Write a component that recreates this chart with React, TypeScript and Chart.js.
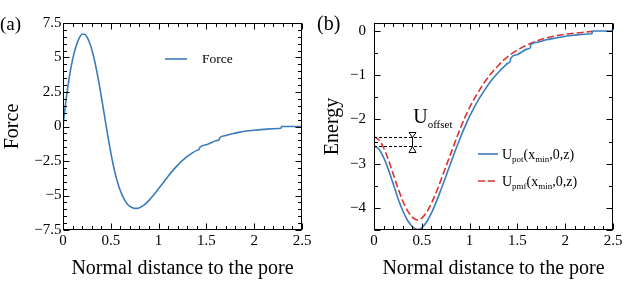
import React, { useEffect, useRef } from 'react';
import { Chart, registerables } from 'chart.js';

Chart.register(...registerables);

const FONT = '"Liberation Serif", "Times New Roman", serif';
const BLUE = '#3b7cbf';
const RED = '#e0302e';

const xTicks = [0, 0.5, 1, 1.5, 2, 2.5];
const xTickLabels = ['0', '0.5', '1', '1.5', '2', '2.5'];
const forceTicks = [-7.5, -5, -2.5, 0, 2.5, 5, 7.5];
const forceTickLabels = ['−7.5', '−5', '−2.5', '0', '2.5', '5', '7.5'];
const energyTicks = [-4, -3, -2, -1, 0];
const energyTickLabels = ['−4', '−3', '−2', '−1', '0'];

const forceX = [0, 0.025, 0.05, 0.075, 0.1, 0.125, 0.15, 0.175, 0.2, 0.225, 0.25, 0.275, 0.3, 0.325, 0.35, 0.375, 0.4, 0.425, 0.45, 0.475, 0.5, 0.525, 0.55, 0.575, 0.6, 0.625, 0.65, 0.675, 0.7, 0.725, 0.75, 0.775, 0.8, 0.85, 0.9, 0.95, 1.0, 1.05, 1.1, 1.15, 1.2, 1.25, 1.3, 1.35, 1.4, 1.425, 1.43, 1.5, 1.55, 1.6, 1.635, 1.64, 1.7, 1.75, 1.8, 1.85, 1.9, 2.0, 2.1, 2.2, 2.28, 2.285, 2.5];
const forceY = [0, 1.55, 2.85, 3.95, 4.85, 5.55, 6.08, 6.47, 6.69, 6.68, 6.5, 6.12, 5.6, 4.93, 4.12, 3.2, 2.2, 1.15, 0.1, -0.93, -1.9, -2.77, -3.52, -4.15, -4.66, -5.07, -5.39, -5.63, -5.79, -5.88, -5.93, -5.93, -5.88, -5.68, -5.35, -4.95, -4.5, -4.05, -3.6, -3.18, -2.8, -2.46, -2.17, -1.93, -1.73, -1.64, -1.52, -1.32, -1.17, -1.03, -0.95, -0.8, -0.66, -0.56, -0.48, -0.41, -0.35, -0.27, -0.21, -0.16, -0.13, 0, 0];

const potX = [0, 0.05, 0.1, 0.15, 0.2, 0.25, 0.3, 0.35, 0.4, 0.45, 0.5, 0.55, 0.6, 0.65, 0.7, 0.75, 0.8, 0.85, 0.9, 0.95, 1.0, 1.05, 1.1, 1.15, 1.2, 1.25, 1.3, 1.35, 1.4, 1.425, 1.43, 1.5, 1.55, 1.6, 1.635, 1.64, 1.7, 1.8, 1.9, 2.0, 2.1, 2.2, 2.28, 2.285, 2.5];
const potY = [-2.6, -2.67, -2.86, -3.13, -3.45, -3.78, -4.06, -4.28, -4.42, -4.49, -4.45, -4.32, -4.12, -3.87, -3.59, -3.3, -3.0, -2.71, -2.43, -2.17, -1.93, -1.72, -1.53, -1.36, -1.2, -1.06, -0.94, -0.83, -0.73, -0.69, -0.62, -0.53, -0.47, -0.41, -0.38, -0.31, -0.26, -0.2, -0.16, -0.12, -0.095, -0.075, -0.065, 0, 0];

const pmfX = [0, 0.05, 0.1, 0.15, 0.2, 0.25, 0.3, 0.35, 0.4, 0.45, 0.5, 0.55, 0.6, 0.65, 0.7, 0.75, 0.8, 0.85, 0.9, 0.95, 1.0, 1.05, 1.1, 1.15, 1.2, 1.25, 1.3, 1.35, 1.4, 1.45, 1.5, 1.6, 1.7, 1.8, 1.9, 2.0, 2.1, 2.2, 2.28];
const pmfY = [-2.39, -2.46, -2.64, -2.91, -3.23, -3.55, -3.84, -4.06, -4.21, -4.27, -4.23, -4.1, -3.9, -3.65, -3.37, -3.08, -2.79, -2.5, -2.22, -1.96, -1.73, -1.53, -1.35, -1.18, -1.03, -0.9, -0.78, -0.67, -0.58, -0.5, -0.43, -0.32, -0.23, -0.16, -0.11, -0.075, -0.05, -0.03, -0.01];

const offsetMarkX = 0.4;
const offsetLineEndX = 0.5;
const offsetLabelX = 0.41;
const offsetLabelY = -2.07;

const pts = (xs: number[], ys: number[]) => xs.map((x, i) => ({ x, y: ys[i] }));

type Part = [string, boolean];
function drawRich(ctx: CanvasRenderingContext2D, x: number, y: number, parts: Part[], size: number, subSize: number, subDrop: number) {
  let cx = x;
  ctx.textBaseline = 'alphabetic';
  ctx.textAlign = 'left';
  for (const [t, sub] of parts) {
    ctx.font = `${sub ? subSize : size}px ${FONT}`;
    ctx.fillText(t, cx, sub ? y + subDrop : y);
    cx += ctx.measureText(t).width;
  }
}

function frameTicksPlugin(xStep: number, yStep: number, xMaj: number[], yMaj: number[], extra?: (chart: any) => void) {
  return {
    id: 'frameTicks',
    afterDatasetsDraw(chart: any) {
      const { ctx, chartArea } = chart;
      const { left, right, top, bottom } = chartArea;
      const xs = chart.scales.x;
      const ys = chart.scales.y;
      ctx.save();
      ctx.strokeStyle = '#000';
      ctx.lineWidth = 1;
      const L = Math.round(left) + 0.5, R = Math.round(right) - 0.5, T = Math.round(top) + 0.5, B = Math.round(bottom) - 0.5;
      ctx.strokeRect(L, T, R - L, B - T);
      ctx.beginPath();
      const nx = Math.round((xs.max - xs.min) / xStep);
      for (let i = 0; i <= nx; i++) {
        const v = xs.min + i * xStep;
        const major = xMaj.some((t) => Math.abs(t - v) < 1e-6);
        const len = major ? 6 : 3.5;
        const px = Math.round(xs.getPixelForValue(v)) + 0.5;
        ctx.moveTo(px, B); ctx.lineTo(px, B - len);
        ctx.moveTo(px, T); ctx.lineTo(px, T + len);
      }
      const ny = Math.round((ys.max - ys.min) / yStep);
      for (let i = 0; i <= ny; i++) {
        const v = ys.min + i * yStep;
        const major = yMaj.some((t) => Math.abs(t - v) < 1e-6);
        const len = major ? 6 : 3.5;
        const py = Math.round(ys.getPixelForValue(v)) + 0.5;
        ctx.moveTo(L, py); ctx.lineTo(L + len, py);
        ctx.moveTo(R, py); ctx.lineTo(R - len, py);
      }
      ctx.stroke();
      ctx.restore();
      if (extra) {
        ctx.save();
        extra(chart);
        ctx.restore();
      }
    },
  };
}

function axisCommon(min: number, max: number, ticks: number[], labels: string[], fit: (s: any) => void, padding: number, title: string, titlePad: any) {
  return {
    type: 'linear' as const,
    min,
    max,
    grid: { display: false, drawTicks: false },
    border: { display: false },
    afterBuildTicks: (s: any) => { s.ticks = ticks.map((v) => ({ value: v })); },
    afterFit: fit,
    ticks: {
      autoSkip: false,
      maxRotation: 0,
      padding,
      color: '#000',
      font: { family: FONT, size: 15 },
      callback: (_v: any, i: number) => labels[i],
    },
    title: { display: true, text: title, color: '#000', font: { family: FONT, size: 20 }, padding: titlePad },
  };
}

export default function App() {
  const leftRef = useRef<HTMLCanvasElement>(null);
  const rightRef = useRef<HTMLCanvasElement>(null);

  useEffect(() => {
    const left = new Chart(leftRef.current!, {
      type: 'line',
      data: {
        datasets: [
          { label: 'Force', data: pts(forceX, forceY), borderColor: BLUE, borderWidth: 1.6, pointRadius: 0, cubicInterpolationMode: 'monotone', fill: false },
        ],
      },
      options: {
        animation: false,
        responsive: false,
        devicePixelRatio: 1,
        layout: { padding: { left: 0, right: 13, top: 23, bottom: 0 } },
        plugins: { legend: { display: false }, tooltip: { enabled: false } },
        scales: {
          x: axisCommon(0, 2.5, xTicks, xTickLabels, (s: any) => { s.height = 55; }, 2, 'Normal distance to the pore', { top: 0, bottom: 4 }),
          y: axisCommon(-7.5, 7.5, forceTicks, forceTickLabels, (s: any) => { s.width = 63; }, 1.5, 'Force', { top: 1, bottom: 0 }),
        },
      },
      plugins: [
        frameTicksPlugin(0.1, 0.5, xTicks, forceTicks, (chart: any) => {
          const ctx = chart.ctx as CanvasRenderingContext2D;
          ctx.fillStyle = '#000';
          ctx.font = `19px ${FONT}`;
          ctx.textBaseline = 'middle';
          ctx.fillText('(a)', 0, 25);
          ctx.strokeStyle = BLUE;
          ctx.lineWidth = 1.6;
          ctx.beginPath();
          ctx.moveTo(165, 59); ctx.lineTo(187, 59);
          ctx.stroke();
          ctx.fillStyle = '#000';
          drawRich(ctx, 202, 63, [['Force', false]], 13.5, 9, 3);
        }),
      ],
    } as any);

    const right = new Chart(rightRef.current!, {
      type: 'line',
      data: {
        datasets: [
          { label: 'Upot', data: pts(potX, potY), borderColor: BLUE, borderWidth: 1.6, pointRadius: 0, cubicInterpolationMode: 'monotone', fill: false },
          { label: 'Upmf', data: pts(pmfX, pmfY), borderColor: RED, borderWidth: 1.6, borderDash: [7, 3], pointRadius: 0, cubicInterpolationMode: 'monotone', fill: false },
        ],
      },
      options: {
        animation: false,
        responsive: false,
        devicePixelRatio: 1,
        layout: { padding: { left: 0, right: 17, top: 23, bottom: 0 } },
        plugins: { legend: { display: false }, tooltip: { enabled: false } },
        scales: {
          x: axisCommon(0, 2.5, xTicks, xTickLabels, (s: any) => { s.height = 55; }, 2, 'Normal distance to the pore', { top: 0, bottom: 4 }),
          y: axisCommon(-4.5, 0.18, energyTicks, energyTickLabels, (s: any) => { s.width = 59; }, 8, 'Energy', { top: 6, bottom: 0 }),
        },
      },
      plugins: [
        frameTicksPlugin(0.1, 0.5, xTicks, energyTicks.concat([-4.5]), (chart: any) => {
          const ctx = chart.ctx as CanvasRenderingContext2D;
          const xs = chart.scales.x;
          const ys = chart.scales.y;
          ctx.fillStyle = '#000';
          ctx.font = `20px ${FONT}`;
          ctx.textBaseline = 'middle';
          ctx.fillText('(b)', 2, 25);
          // U_offset annotation
          const yTop = Math.round(ys.getPixelForValue(pmfY[0])) + 0.5;
          const yBot = Math.round(ys.getPixelForValue(potY[0])) + 0.5;
          const x0 = xs.getPixelForValue(0);
          const x1 = xs.getPixelForValue(offsetLineEndX);
          ctx.strokeStyle = '#000';
          ctx.lineWidth = 1;
          ctx.setLineDash([3, 2]);
          ctx.beginPath();
          ctx.moveTo(x0, yTop); ctx.lineTo(x1, yTop);
          ctx.moveTo(x0, yBot); ctx.lineTo(x1, yBot);
          ctx.stroke();
          ctx.setLineDash([]);
          const xm = Math.round(xs.getPixelForValue(offsetMarkX)) + 0.5;
          ctx.beginPath();
          ctx.moveTo(xm, yTop); ctx.lineTo(xm, yBot);
          ctx.moveTo(xm - 3.5, yTop - 5); ctx.lineTo(xm + 3.5, yTop - 5); ctx.lineTo(xm, yTop); ctx.closePath();
          ctx.moveTo(xm - 3.5, yBot + 6); ctx.lineTo(xm + 3.5, yBot + 6); ctx.lineTo(xm, yBot); ctx.closePath();
          ctx.stroke();
          drawRich(ctx, xs.getPixelForValue(offsetLabelX), ys.getPixelForValue(offsetLabelY), [['U', false], ['offset', true]], 20, 11, 5);
          // legend
          const lx0 = 163, lx1 = 183, tx = 187;
          ctx.lineWidth = 1.6;
          ctx.strokeStyle = BLUE;
          ctx.beginPath(); ctx.moveTo(lx0, 154); ctx.lineTo(lx1, 154); ctx.stroke();
          ctx.strokeStyle = RED;
          ctx.setLineDash([7, 3]);
          ctx.beginPath(); ctx.moveTo(lx0, 181); ctx.lineTo(lx1, 181); ctx.stroke();
          ctx.setLineDash([]);
          ctx.fillStyle = '#000';
          drawRich(ctx, tx, 158.5, [['U', false], ['pot', true], ['(x', false], ['min', true], [',0,z)', false]], 14, 9, 3);
          drawRich(ctx, tx, 185.5, [['U', false], ['pmf', true], ['(x', false], ['min', true], [',0,z)', false]], 14, 9, 3);
        }),
      ],
    } as any);

    return () => {
      left.destroy();
      right.destroy();
    };
  }, []);

  return (
    <div style={{ position: 'absolute', left: 0, top: 0, width: 630, height: 285, display: 'flex', background: '#fff' }}>
      <canvas ref={leftRef} width={315} height={285} style={{ display: 'block', width: 315, height: 285 }} />
      <canvas ref={rightRef} width={315} height={285} style={{ display: 'block', width: 315, height: 285 }} />
    </div>
  );
}
